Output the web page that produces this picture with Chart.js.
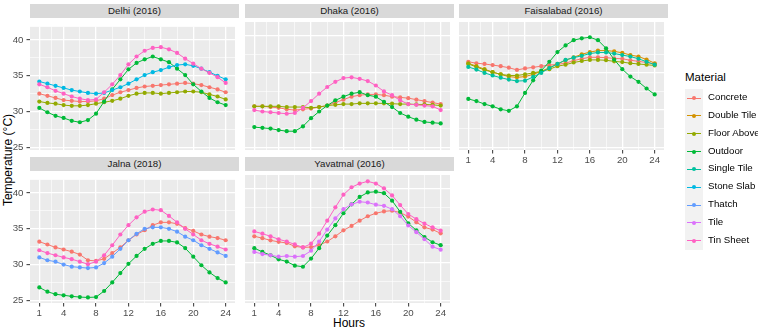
<!DOCTYPE html>
<html>
<head>
<meta charset="utf-8">
<script src="https://cdn.jsdelivr.net/npm/chart.js@4.4.1/dist/chart.umd.min.js"></script>
<style>
  body { margin: 0; background: #fff; }
  #wrap { position: relative; width: 758px; height: 330px; overflow: hidden; font-family: "Liberation Sans", Arial, sans-serif; }
  #wrap canvas { position: absolute; }
  .strip { position: absolute; background: #D9D9D9; color: #1A1A1A; font-size: 9.7px; text-align: center; }
  .title { position: absolute; color: #000; font-size: 12px; white-space: nowrap; }
  .leg-title { position: absolute; left: 685px; top: 71px; font-size: 11.5px; color: #000; }
  .leg-row { position: absolute; left: 685px; height: 18px; }
  .leg-key { position: absolute; left: 0; top: 0; width: 18px; height: 18px; background: #F2F2F2; }
  .leg-line { position: absolute; left: 2px; top: 8.5px; width: 14px; height: 1px; }
  .leg-dot { position: absolute; left: 7px; top: 7px; width: 4px; height: 4px; border-radius: 50%; }
  .leg-text { position: absolute; left: 23px; top: 2px; font-size: 9.7px; color: #000; white-space: nowrap; }
</style>
</head>
<body>
<div id="wrap">
  <div class="title" id="ytitle" style="left:-42px; top:153px; width:100px; text-align:center; transform:rotate(-90deg);">Temperature (°C)</div>
  <div class="title" style="left:299px; top:316px; width:100px; text-align:center;">Hours</div>
  <div class="leg-title">Material</div>
</div>
<script>
const HOURS = [1, 2, 3, 4, 5, 6, 7, 8, 9, 10, 11, 12, 13, 14, 15, 16, 17, 18, 19, 20, 21, 22, 23, 24];

const MATERIALS = ['Concrete', 'Double Tile', 'Floor Above', 'Outdoor', 'Single Tile', 'Stone Slab', 'Thatch', 'Tile', 'Tin Sheet'];
const COLORS = ['#F8766D', '#D39200', '#93AA00', '#00BA38', '#00C19F', '#00B9E3', '#619CFF', '#DB72FB', '#FF61C3'];

const X_BREAKS = [1, 4, 8, 12, 16, 20, 24];
const X_GRID = [1, 2.5, 4, 6, 8, 10, 12, 14, 16, 18, 20, 22, 24];
const Y_BREAKS = [25, 30, 35, 40];
const Y_GRID = [25, 27.5, 30, 32.5, 35, 37.5, 40];

// Delhi (2016)
const DELHI_CONCRETE = [32.5, 32.2, 31.9, 31.6, 31.5, 31.4, 31.4, 31.5, 31.8, 32.3, 32.7, 33.0, 33.3, 33.5, 33.6, 33.7, 33.8, 33.9, 34.0, 33.9, 33.7, 33.4, 33.1, 32.7];
const DELHI_FLOOR = [31.4, 31.2, 31.1, 30.9, 30.8, 30.8, 30.9, 31.1, 31.3, 31.5, 31.8, 32.2, 32.5, 32.6, 32.6, 32.5, 32.6, 32.7, 32.8, 32.8, 32.7, 32.4, 32.1, 31.7];
const DELHI_OUTDOOR = [30.5, 29.9, 29.4, 29.1, 28.7, 28.5, 28.8, 29.7, 31.4, 33.1, 34.5, 35.9, 36.8, 37.3, 37.7, 37.3, 36.9, 36.0, 35.1, 33.8, 32.8, 31.9, 31.3, 30.9];
const DELHI_STONE = [34.2, 33.9, 33.6, 33.3, 33.0, 32.8, 32.6, 32.5, 32.6, 33.0, 33.4, 33.9, 34.5, 35.1, 35.5, 35.8, 36.2, 36.5, 36.6, 36.4, 36.0, 35.5, 35.0, 34.5];
const DELHI_TIN = [33.8, 33.4, 32.9, 32.5, 32.1, 31.8, 31.6, 31.7, 32.7, 33.8, 35.1, 36.6, 37.7, 38.5, 38.9, 39.0, 38.7, 38.2, 37.4, 36.7, 36.0, 35.4, 34.8, 34.0];

// Dhaka (2016)
const DHAKA_CONCRETE = [30.5, 30.5, 30.4, 30.3, 30.1, 30.0, 30.1, 30.2, 30.4, 30.6, 31.0, 31.4, 31.8, 32.0, 32.1, 32.1, 32.0, 31.8, 31.7, 31.6, 31.4, 31.2, 31.0, 30.8];
const DHAKA_FLOOR = [30.5, 30.5, 30.5, 30.5, 30.4, 30.4, 30.4, 30.3, 30.4, 30.6, 30.7, 30.8, 30.8, 30.9, 30.9, 30.9, 30.9, 30.85, 30.8, 30.8, 30.75, 30.75, 30.7, 30.6];
const DHAKA_OUTDOOR = [27.7, 27.6, 27.5, 27.3, 27.15, 27.15, 27.8, 28.9, 29.8, 30.6, 31.3, 31.8, 32.2, 32.4, 32.0, 31.8, 31.1, 30.4, 29.6, 29.1, 28.7, 28.4, 28.3, 28.2];
const DHAKA_TIN = [30.0, 29.8, 29.7, 29.6, 29.5, 29.6, 30.3, 31.2, 32.2, 33.1, 33.8, 34.3, 34.4, 34.2, 33.9, 33.3, 32.5, 32.0, 31.3, 30.8, 30.7, 30.6, 30.5, 30.0];

// Faisalabad (2016)
const FSD_CONCRETE = [36.5, 36.3, 36.2, 36.05, 35.9, 35.7, 35.4, 35.6, 35.75, 35.9, 36.05, 36.15, 36.3, 36.65, 36.9, 37.1, 37.1, 37.05, 36.95, 36.9, 36.7, 36.55, 36.4, 36.2];
const FSD_DOUBLE = [36.3, 35.9, 35.5, 35.1, 34.8, 34.5, 34.4, 34.5, 34.8, 35.2, 35.7, 36.2, 36.7, 37.1, 37.5, 37.8, 38.0, 38.0, 37.9, 37.7, 37.4, 37.2, 36.8, 36.3];
const FSD_FLOOR = [36.2, 35.8, 35.4, 35.1, 34.8, 34.65, 34.65, 34.8, 35.0, 35.2, 35.5, 35.9, 36.1, 36.4, 36.6, 36.75, 36.75, 36.7, 36.55, 36.45, 36.3, 36.2, 36.1, 36.0];
const FSD_OUTDOOR = [31.5, 31.2, 30.8, 30.5, 30.1, 29.9, 30.5, 32.3, 34.0, 35.3, 36.5, 37.8, 38.7, 39.4, 39.65, 39.8, 39.4, 38.3, 36.8, 35.5, 34.5, 33.8, 32.9, 32.1];
const FSD_SINGLE = [35.8, 35.45, 35.0, 34.65, 34.35, 34.1, 33.9, 33.95, 34.45, 35.0, 35.65, 36.2, 36.75, 37.05, 37.3, 37.6, 37.75, 37.75, 37.6, 37.4, 37.2, 36.9, 36.5, 36.1];

// Jalna (2018)
const JALNA_CONCRETE = [33.2, 32.8, 32.4, 32.1, 31.8, 31.4, 30.6, 30.5, 30.8, 31.6, 32.4, 33.4, 34.2, 34.8, 35.5, 35.9, 35.9, 35.7, 35.1, 34.7, 34.2, 33.9, 33.7, 33.4];
const JALNA_OUTDOOR = [26.8, 26.2, 25.85, 25.7, 25.55, 25.45, 25.4, 25.45, 26.3, 27.5, 28.8, 30.1, 31.2, 32.2, 32.9, 33.3, 33.3, 33.1, 32.3, 31.1, 29.9, 28.9, 28.1, 27.5];
const JALNA_THATCH = [31.0, 30.6, 30.4, 30.0, 29.7, 29.6, 29.5, 29.6, 30.2, 31.1, 32.2, 33.4, 34.3, 35.0, 35.2, 35.2, 35.0, 34.6, 33.9, 33.4, 32.7, 32.2, 31.7, 31.2];
const JALNA_TIN = [32.0, 31.6, 31.3, 31.0, 30.75, 30.4, 30.05, 30.4, 31.3, 32.7, 34.2, 35.5, 36.6, 37.4, 37.7, 37.6, 36.8, 35.9, 35.0, 34.2, 33.4, 32.9, 32.5, 32.1];

// Yavatmal (2016)
const YAV_CONCRETE = [33.6, 33.35, 33.05, 32.85, 32.7, 32.25, 32.1, 32.15, 32.4, 32.9, 33.6, 34.4, 35.0, 35.7, 36.3, 36.7, 36.95, 37.05, 36.8, 36.25, 35.5, 34.8, 34.5, 34.0];
const YAV_OUTDOOR = [32.0, 31.5, 31.05, 30.5, 30.2, 29.65, 29.5, 30.6, 32.0, 33.7, 35.1, 36.7, 37.9, 38.9, 39.5, 39.6, 39.4, 38.4, 36.9, 35.35, 34.4, 33.5, 32.8, 32.4];
const YAV_TILE = [31.5, 31.2, 31.05, 30.85, 30.95, 30.85, 30.95, 31.65, 32.9, 34.5, 36.0, 37.25, 37.9, 38.25, 38.15, 37.85, 37.7, 37.25, 36.3, 35.05, 34.15, 33.2, 32.2, 31.8];
const YAV_TIN = [34.25, 33.95, 33.6, 33.2, 32.9, 32.5, 32.1, 32.6, 33.95, 35.7, 37.5, 39.2, 40.2, 40.7, 41.0, 40.7, 40.05, 39.1, 37.8, 36.6, 35.9, 35.3, 34.8, 34.35];

const FONT = '"Liberation Sans", Arial, sans-serif';
const PW = 209, PH = 132;   // panel size
const AXW = 30, AXH = 20;   // room for axis ticks/labels
const X_MIN = -0.15, X_MAX = 25.15;
const Y_MIN = 24.62, Y_MAX = 41.85;

const PANELS = [
  { title: 'Delhi (2016)', left: 30, top: 18, showX: false, showY: true,
    series: { 'Concrete': DELHI_CONCRETE, 'Floor Above': DELHI_FLOOR, 'Outdoor': DELHI_OUTDOOR, 'Stone Slab': DELHI_STONE, 'Tin Sheet': DELHI_TIN } },
  { title: 'Dhaka (2016)', left: 245, top: 18, showX: false, showY: false,
    series: { 'Concrete': DHAKA_CONCRETE, 'Floor Above': DHAKA_FLOOR, 'Outdoor': DHAKA_OUTDOOR, 'Tin Sheet': DHAKA_TIN } },
  { title: 'Faisalabad (2016)', left: 459, top: 18, showX: true, showY: false,
    series: { 'Concrete': FSD_CONCRETE, 'Double Tile': FSD_DOUBLE, 'Floor Above': FSD_FLOOR, 'Outdoor': FSD_OUTDOOR, 'Single Tile': FSD_SINGLE } },
  { title: 'Jalna (2018)', left: 30, top: 171, showX: true, showY: true,
    series: { 'Concrete': JALNA_CONCRETE, 'Outdoor': JALNA_OUTDOOR, 'Thatch': JALNA_THATCH, 'Tin Sheet': JALNA_TIN } },
  { title: 'Yavatmal (2016)', left: 245, top: 171, showX: true, showY: false,
    series: { 'Concrete': YAV_CONCRETE, 'Outdoor': YAV_OUTDOOR, 'Tile': YAV_TILE, 'Tin Sheet': YAV_TIN } }
];

const panelBg = {
  id: 'panelBg',
  beforeDraw(chart) {
    const { ctx, chartArea: a } = chart;
    ctx.save();
    ctx.fillStyle = '#EBEBEB';
    ctx.fillRect(a.left, a.top, a.width, a.height);
    ctx.restore();
  }
};

const wrap = document.getElementById('wrap');

function makePanel(p) {
  const strip = document.createElement('div');
  strip.className = 'strip';
  strip.style.left = p.left + 'px';
  strip.style.top = (p.top - 14) + 'px';
  strip.style.width = PW + 'px';
  strip.style.height = '14px';
  strip.style.lineHeight = '14px';
  strip.textContent = p.title;
  wrap.appendChild(strip);

  const cv = document.createElement('canvas');
  cv.width = PW + AXW;
  cv.height = PH + AXH;
  cv.style.left = (p.left - AXW) + 'px';
  cv.style.top = p.top + 'px';
  wrap.appendChild(cv);

  const datasets = Object.keys(p.series).map(name => {
    const mi = MATERIALS.indexOf(name);
    return {
      label: name,
      data: p.series[name].map((v, i) => ({ x: HOURS[i], y: v })),
      borderColor: COLORS[mi],
      backgroundColor: COLORS[mi],
      borderWidth: 1,
      pointRadius: 2.1,
      pointBorderWidth: 0,
      tension: 0,
      order: 20 - mi
    };
  });

  new Chart(cv, {
    type: 'line',
    data: { datasets },
    plugins: [panelBg],
    options: {
      responsive: false, animation: false, events: [],
      devicePixelRatio: 1,
      layout: { padding: 0 },
      plugins: { legend: { display: false }, tooltip: { enabled: false } },
      scales: {
        x: {
          type: 'linear', min: X_MIN, max: X_MAX,
          afterBuildTicks: s => { s.ticks = X_GRID.map(v => ({ value: v })); },
          afterFit: s => { s.height = AXH; },
          border: { display: false },
          grid: {
            color: '#FFFFFF',
            lineWidth: c => X_BREAKS.includes(c.tick.value) ? 1.3 : 0.6,
            drawTicks: true, tickLength: 3.5, tickWidth: 1,
            tickColor: c => (p.showX && X_BREAKS.includes(c.tick.value)) ? '#333333' : 'rgba(0,0,0,0)'
          },
          ticks: {
            display: p.showX, autoSkip: false, maxRotation: 0, padding: 1.5,
            color: '#4D4D4D', font: { family: FONT, size: 9.7 },
            callback: v => X_BREAKS.includes(v) ? String(v) : ''
          }
        },
        y: {
          type: 'linear', min: Y_MIN, max: Y_MAX,
          afterBuildTicks: s => { s.ticks = Y_GRID.map(v => ({ value: v })); },
          afterFit: s => { s.width = AXW; },
          border: { display: false },
          grid: {
            color: '#FFFFFF',
            lineWidth: c => Y_BREAKS.includes(c.tick.value) ? 1.3 : 0.6,
            drawTicks: true, tickLength: 3.5, tickWidth: 1,
            tickColor: c => (p.showY && Y_BREAKS.includes(c.tick.value)) ? '#333333' : 'rgba(0,0,0,0)'
          },
          ticks: {
            display: p.showY, autoSkip: false, padding: 3,
            color: '#4D4D4D', font: { family: FONT, size: 9.7 },
            callback: v => Y_BREAKS.includes(v) ? String(v) : ''
          }
        }
      }
    }
  });
}

PANELS.forEach(makePanel);

// legend
MATERIALS.forEach((name, i) => {
  const row = document.createElement('div');
  row.className = 'leg-row';
  row.style.top = (89 + i * 17.85) + 'px';
  row.innerHTML = '<div class="leg-key"><div class="leg-line" style="background:' + COLORS[i] + '"></div>' +
    '<div class="leg-dot" style="background:' + COLORS[i] + '"></div></div>' +
    '<div class="leg-text">' + name + '</div>';
  wrap.appendChild(row);
});
</script>
</body>
</html>
